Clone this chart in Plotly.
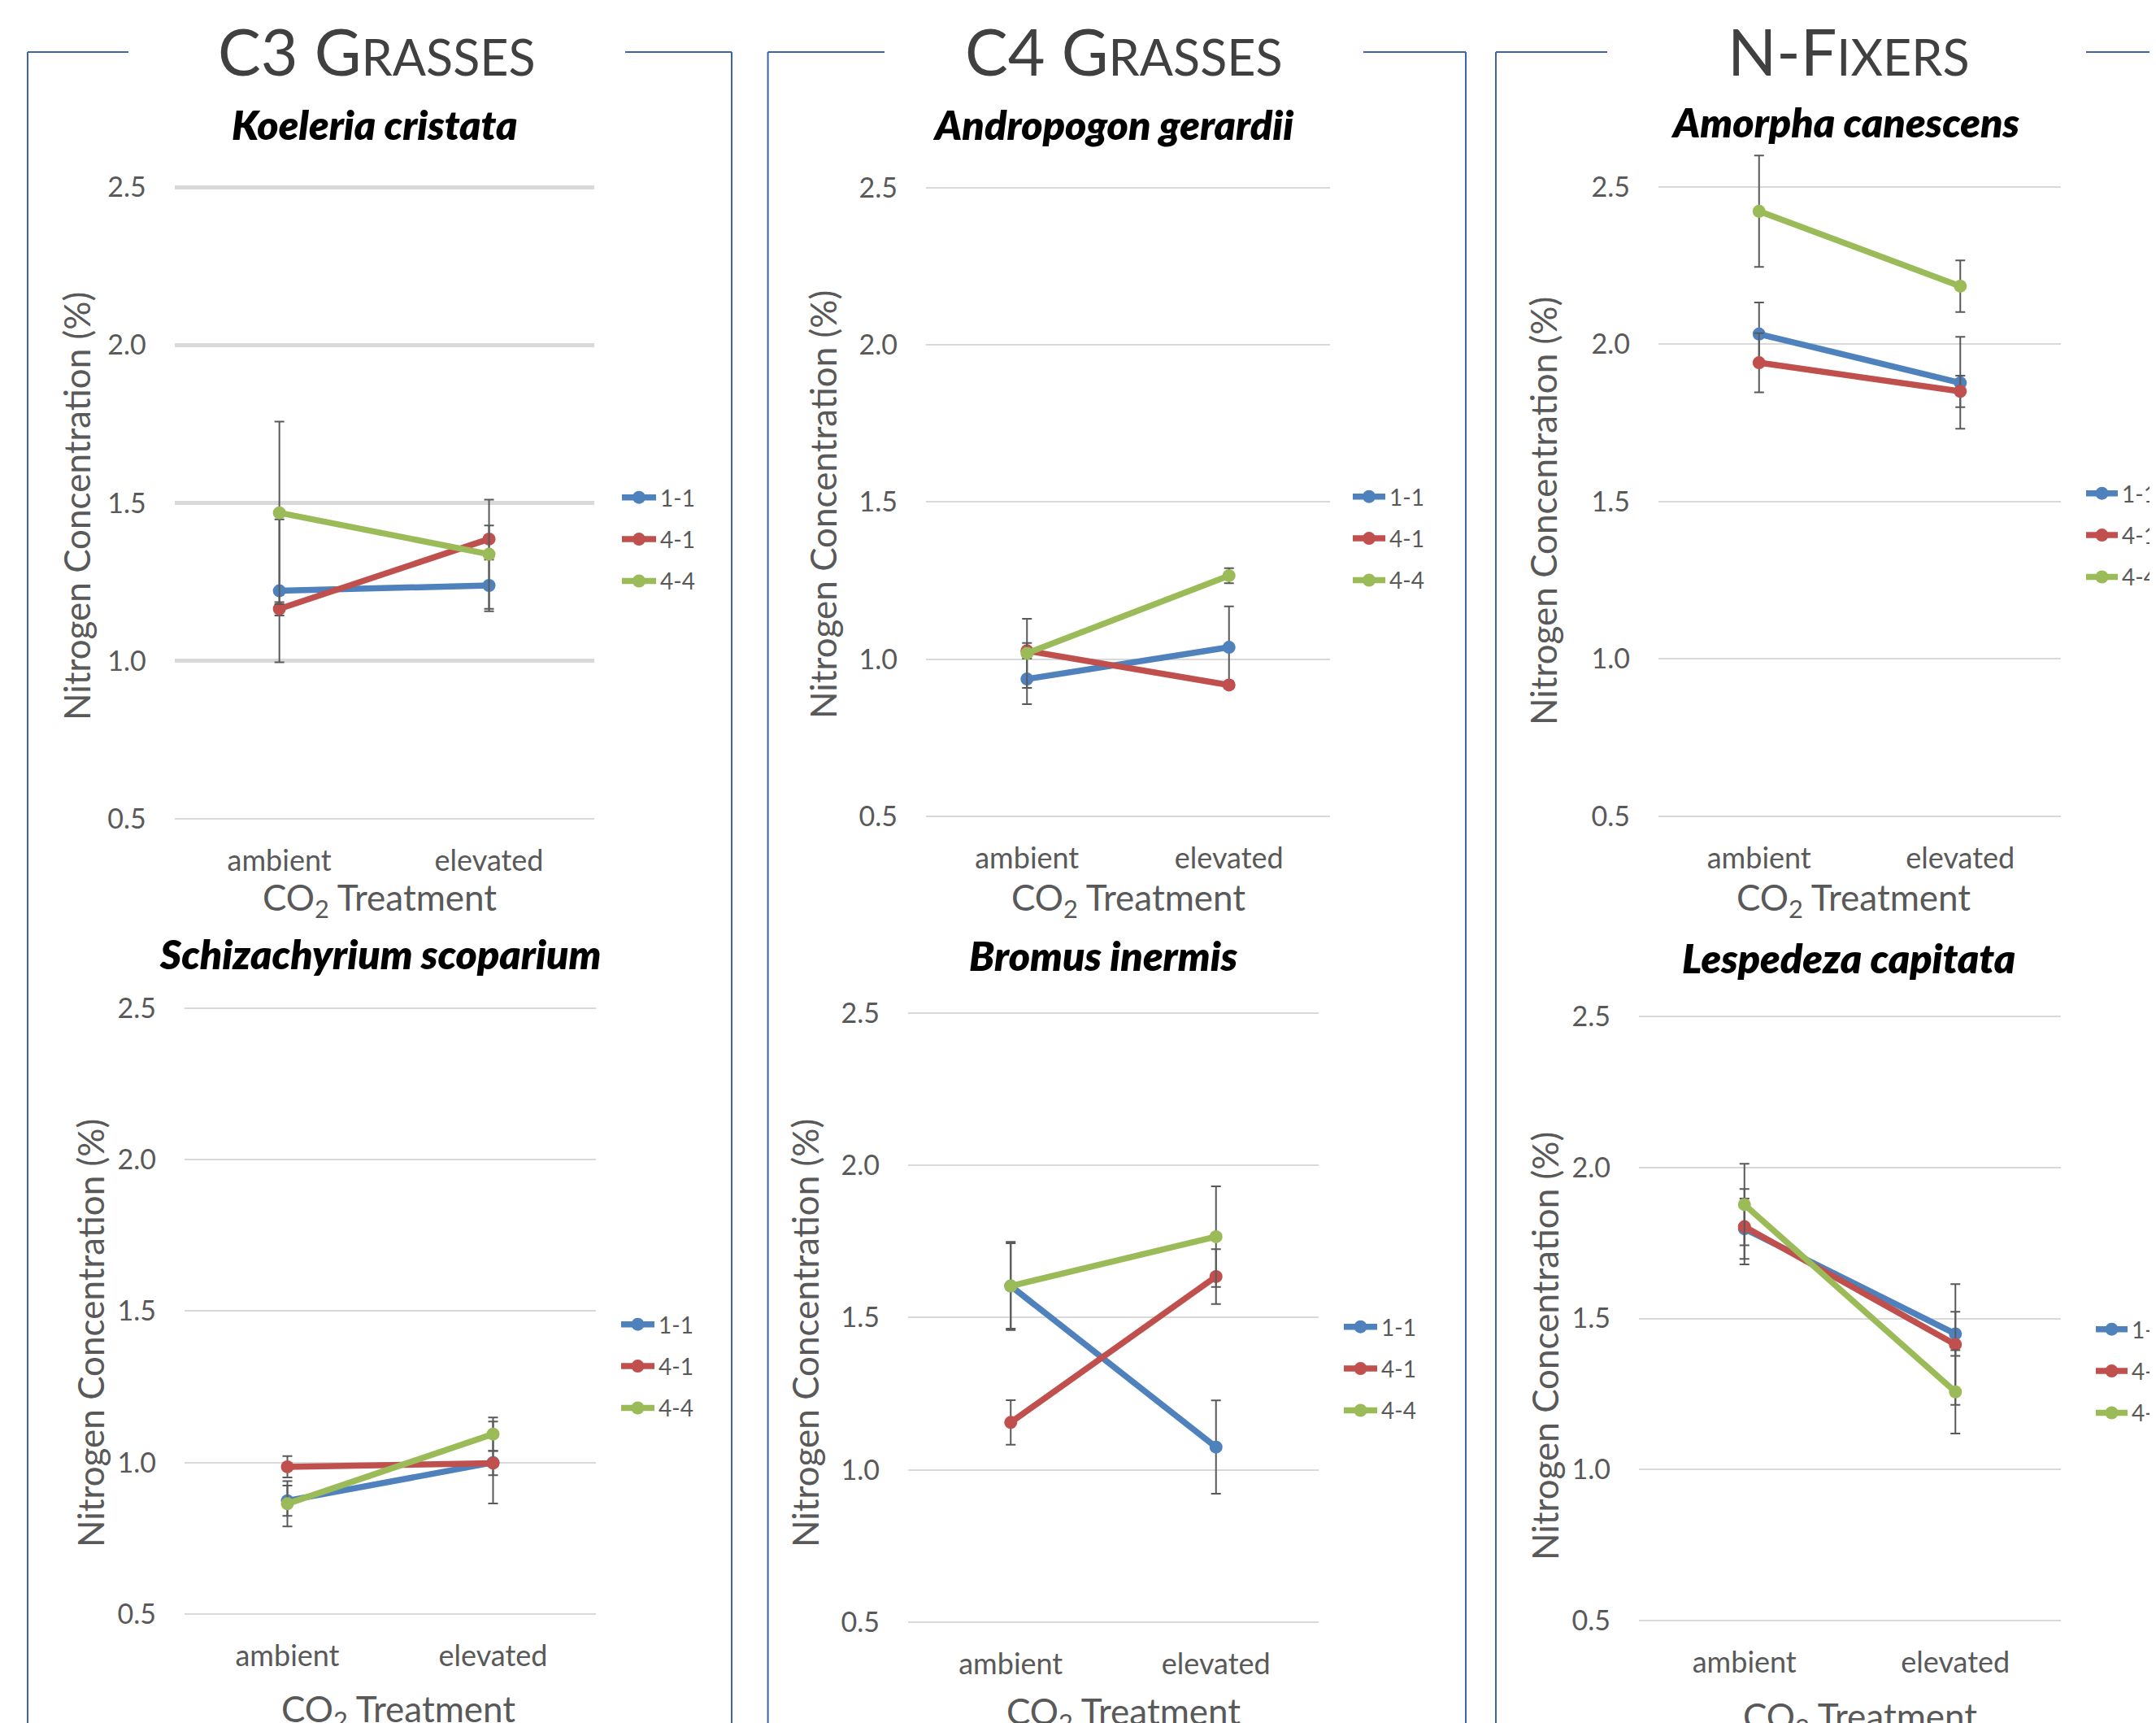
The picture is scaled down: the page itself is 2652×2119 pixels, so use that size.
import plotly.graph_objects as go

# page has an 8px body margin; the figure is offset by it.  The paper is made a bit
# wider than the window so that the right-hand legends (cut off in the reference)
# stay inside the paper and do not push the margins.
PAGE_W, PAGE_H = 2652, 2119
OFF = 8
W, H = 2720, PAGE_H

# ---------------- data ----------------
categories = ["ambient", "elevated"]
series_names = ["1-1", "4-1", "4-4"]
series_colors = ["#4F81BD", "#C0504D", "#9BBB59"]
ytick_vals = [0.5, 1.0, 1.5, 2.0, 2.5]
ytick_text = ["0.5", "1.0", "1.5", "2.0", "2.5"]

group_titles = ["C3 G", "C4 G", "N-F"]
group_titles_small = ["RASSES", "RASSES", "IXERS"]

species = ["Koeleria cristata", "Andropogon gerardii", "Amorpha canescens",
           "Schizachyrium scoparium", "Bromus inermis", "Lespedeza capitata"]

# mean N concentration (%) [ambient, elevated] per series 1-1, 4-1, 4-4
koeleria_mean = [[1.222, 1.239], [1.165, 1.386], [1.469, 1.338]]
koeleria_err = [[0.226, 0.082], [0.021, 0.043], [0.289, 0.173]]

andropogon_mean = [[0.937, 1.038], [1.027, 0.918], [1.019, 1.266]]
andropogon_err = [[0.080, 0.130], [0.025, 0.012], [0.110, 0.024]]

amorpha_mean = [[2.032, 1.877], [1.941, 1.850], [2.422, 2.184]]
amorpha_err = [[0.100, 0.146], [0.094, 0.050], [0.177, 0.082]]

schizachyrium_mean = [[0.874, 1.000], [0.986, 0.998], [0.864, 1.094]]
schizachyrium_err = [[0.050, 0.135], [0.035, 0.040], [0.075, 0.055]]

bromus_mean = [[1.604, 1.075], [1.156, 1.635], [1.604, 1.766]]
bromus_err = [[0.145, 0.153], [0.073, 0.090], [0.140, 0.165]]

lespedeza_mean = [[1.797, 1.449], [1.804, 1.414], [1.877, 1.257]]
lespedeza_err = [[0.100, 0.073], [0.125, 0.200], [0.135, 0.138]]

all_means = [koeleria_mean, andropogon_mean, amorpha_mean,
             schizachyrium_mean, bromus_mean, lespedeza_mean]
all_errs = [koeleria_err, andropogon_err, amorpha_err,
            schizachyrium_err, bromus_err, lespedeza_err]

# ---------------- layout (page pixels) ----------------
FONT = "Lato"
GRAY = "#595959"
GRID = "#D9D9D9"
FRAME = "#3F62AD"
Y_LO, Y_HI = 0.45, 2.65

# plot areas: x left, x right, y pixel of 2.5, y pixel of 0.5
panels_px = [
    (214.7, 730.5, 230.3, 1007.0),
    (1139.0, 1636.0, 231.0, 1004.0),
    (2040.0, 2535.0, 229.6, 1004.0),
    (227.0, 733.0, 1239.7, 1985.0),
    (1117.0, 1622.0, 1246.0, 1995.0),
    (2016.0, 2535.0, 1250.0, 1993.0),
]
subtitle_pos = [(460, 153), (1369, 153), (2269, 150),
                (467, 1173), (1357, 1175), (2274, 1178)]
ytitle_pos = [(94, 623), (1012, 621), (1898, 629),
              (111, 1640), (990, 1640), (1900, 1656)]
xtitle_pos = [(467, 1106), (1388, 1106), (2280, 1106),
              (490, 2104), (1382, 2107), (2288, 2113)]
# legend: center of the reference key line, y of first item
legend_pos = [(780, 612), (1679, 611), (2581, 607),
              (779, 1629), (1668, 1632), (2593, 1635)]
legend_text_x = [812, 1709, 2610, 810, 1699, 2622]
title_pos = [(464, 63), (1382, 63), (2274, 63)]


def px_x(x):
    return (x - OFF) / W


def px_y(y):
    return 1 - (y - OFF) / H


fig = go.Figure()
layout = dict(
    width=W, height=H, autosize=False,
    margin=dict(l=0, r=0, t=0, b=0),
    paper_bgcolor="white", plot_bgcolor="white",
    showlegend=True,
    font=dict(family=FONT, color=GRAY),
)
annotations = []
shapes = []

for i in range(6):
    n = "" if i == 0 else str(i + 1)
    xname, yname = "x" + n, "y" + n
    x0, x1, y25, y05 = panels_px[i]
    ppu = (y05 - y25) / 2.0
    top_px = y25 - (Y_HI - 2.5) * ppu
    bot_px = y05 + (0.5 - Y_LO) * ppu
    dom_y = [px_y(bot_px), px_y(top_px)]
    dom_x = [px_x(x0), px_x(x1)]
    layout["xaxis" + n] = dict(
        domain=dom_x, anchor=yname, type="category",
        range=[-0.5, 1.5], showgrid=False, zeroline=False, showline=False,
        ticks="", tickfont=dict(family=FONT, size=36, color=GRAY),
        ticklabelstandoff=8, fixedrange=True,
    )
    layout["yaxis" + n] = dict(
        domain=dom_y, anchor=xname, range=[Y_LO, Y_HI],
        tickvals=ytick_vals, ticktext=ytick_text,
        showgrid=True, gridcolor=GRID, gridwidth=2,
        zeroline=False, showline=False, ticks="",
        tickfont=dict(family=FONT, size=34, color=GRAY),
        ticklabelstandoff=34, fixedrange=True,
    )
    legname = "legend" + n
    for s in range(3):
        fig.add_trace(go.Scatter(
            x=categories, y=all_means[i][s],
            xaxis=xname, yaxis=yname,
            mode="lines+markers", name=series_names[s],
            line=dict(color=series_colors[s], width=7.5),
            marker=dict(color=series_colors[s], size=16),
            error_y=dict(type="data", array=all_errs[i][s], visible=True,
                         color=GRAY, thickness=2, width=6),
            legend=legname, legendgroup=f"p{i}s{s}",
            cliponaxis=False, hoverinfo="x+y+name",
        ))
    lcx, ly = legend_pos[i]
    lx = lcx - 20  # key line spans lx+5 .. lx+35
    layout[legname] = dict(
        x=px_x(lx), y=px_y(ly - 25), xanchor="left", yanchor="top",
        bgcolor="rgba(0,0,0,0)", borderwidth=0,
        font=dict(family=FONT, size=28, color=GRAY),
        tracegroupgap=12, traceorder="grouped",
        itemwidth=max(30, legend_text_x[i] - lx - 10),
    )
    sx, sy = subtitle_pos[i]
    annotations.append(dict(
        text="<i>" + species[i] + "</i>", x=px_x(sx), y=px_y(sy),
        xref="paper", yref="paper", showarrow=False,
        xanchor="center", yanchor="middle",
        font=dict(family=FONT, size=50, color="black", weight=800),
    ))
    tx, ty = ytitle_pos[i]
    annotations.append(dict(
        text="Nitrogen Concentration (%)", x=px_x(tx), y=px_y(ty),
        xref="paper", yref="paper", showarrow=False, textangle=-90,
        xanchor="center", yanchor="middle",
        font=dict(family=FONT, size=44, color=GRAY),
    ))
    qx, qy = xtitle_pos[i]
    annotations.append(dict(
        text="CO<sub>2</sub> Treatment", x=px_x(qx), y=px_y(qy),
        xref="paper", yref="paper", showarrow=False,
        xanchor="center", yanchor="middle",
        font=dict(family=FONT, size=44, color=GRAY),
    ))

# thicker major gridlines in the first panel (overlay axis)
layout["yaxis7"] = dict(
    overlaying="y", anchor="x", range=[Y_LO, Y_HI],
    tickvals=ytick_vals[1:], showticklabels=False,
    showgrid=True, gridcolor=GRID, gridwidth=5,
    zeroline=False, showline=False, ticks="", fixedrange=True,
)
fig.add_trace(go.Scatter(x=[], y=[], xaxis="x", yaxis="y7",
                         showlegend=False, hoverinfo="skip"))

# group titles
for g in range(3):
    gx, gy = title_pos[g]
    annotations.append(dict(
        text=group_titles[g] + '<span style="font-size:61px">' + group_titles_small[g] + "</span>",
        x=px_x(gx), y=px_y(gy), xref="paper", yref="paper", showarrow=False,
        xanchor="center", yanchor="middle",
        font=dict(family=FONT, size=79, color="#404040"),
    ))

# group frames (left, right, gap start, gap end)
frames_px = [(34, 900, 158, 769), (944.6, 1803, 1088, 1677), (1840, 2720, 1977, 2566)]
FRAME_TOP = 64
for (fl, fr, g0, g1) in frames_px:
    for (xa, ya, xb, yb) in [(fl, FRAME_TOP, fl, PAGE_H + 20), (fr, FRAME_TOP, fr, PAGE_H + 20),
                             (fl, FRAME_TOP, g0, FRAME_TOP), (g1, FRAME_TOP, fr, FRAME_TOP)]:
        shapes.append(dict(type="line", xref="paper", yref="paper",
                           x0=px_x(xa), y0=px_y(ya), x1=px_x(xb), y1=px_y(yb),
                           line=dict(color=FRAME, width=2)))

layout["annotations"] = annotations
layout["shapes"] = shapes
fig.update_layout(**layout)
fig.write_html("out.html")
